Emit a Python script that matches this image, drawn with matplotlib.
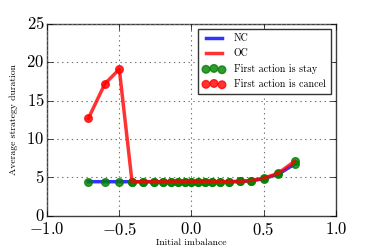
import numpy as np
import matplotlib
matplotlib.use("Agg")
import matplotlib.pyplot as plt

plt.style.use("classic")
plt.rcParams["figure.facecolor"] = "white"
plt.rcParams["savefig.facecolor"] = "white"
plt.rcParams["font.family"] = "serif"
plt.rcParams["font.serif"] = ["cmr10"]
plt.rcParams["mathtext.fontset"] = "cm"
plt.rcParams["axes.formatter.use_mathtext"] = True
plt.rcParams["axes.unicode_minus"] = True

imbalance = [-0.714, -0.6, -0.5, -0.412, -0.333, -0.263, -0.2, -0.143, -0.091, -0.043,
             0.0, 0.043, 0.091, 0.143, 0.2, 0.263, 0.333, 0.412, 0.5, 0.6, 0.714]
nc_duration = [4.45, 4.45, 4.45, 4.45, 4.45, 4.45, 4.45, 4.45, 4.45, 4.45,
               4.45, 4.45, 4.45, 4.45, 4.45, 4.45, 4.48, 4.55, 4.85, 5.4, 6.75]
oc_duration = [12.7, 17.2, 19.1, 4.45, 4.45, 4.45, 4.45, 4.45, 4.45, 4.45,
               4.45, 4.45, 4.45, 4.45, 4.45, 4.45, 4.48, 4.6, 4.9, 5.55, 7.1]
n_cancel = 3  # first points of OC where first action is cancel

x = np.array(imbalance)
nc = np.array(nc_duration)
oc = np.array(oc_duration)

fig = plt.figure(figsize=(3.74, 2.49), dpi=100)
ax = fig.add_axes([0.126, 0.133, 0.772, 0.771])

ax.plot(x, nc, color="b", lw=2.5, alpha=0.8, label="NC")
ax.scatter(x, nc, s=30, color="g", edgecolor="g", alpha=0.8, zorder=3)
ax.plot(x, oc, color="r", lw=2.5, alpha=0.8, label="OC", zorder=4)
ax.scatter(x[n_cancel:], oc[n_cancel:], s=30, color="g", edgecolor="g", alpha=0.8,
           zorder=3, label="First action is stay")
ax.scatter(x[:n_cancel], oc[:n_cancel], s=30, color="r", edgecolor="r", alpha=0.8,
           zorder=5, label="First action is cancel")

ax.set_xlim(-1, 1)
ax.set_ylim(0, 25)
ax.set_xticks([-1.0, -0.5, 0.0, 0.5, 1.0])
ax.set_yticks([0, 5, 10, 15, 20, 25])
ax.tick_params(axis="both", labelsize=12)
ax.tick_params(axis="x", pad=4)
ax.tick_params(axis="y", pad=2)
ax.grid(True, color="0.45", linestyle=(0, (1, 2.5)), lw=0.8)
for s in ax.spines.values():
    s.set_color("0.25")

ax.set_xlabel("Initial imbalance", fontsize=7, labelpad=0)
ax.set_ylabel("Average strategy duration", fontsize=7, labelpad=6)

leg = ax.legend(loc="upper right", fontsize=7.2, scatterpoints=3, handlelength=2.2,
                borderpad=0.5, labelspacing=0.55, handletextpad=0.9, fancybox=False,
                borderaxespad=0.5)
leg.get_frame().set_edgecolor("0.2")

fig.savefig("out.png", dpi=100)
